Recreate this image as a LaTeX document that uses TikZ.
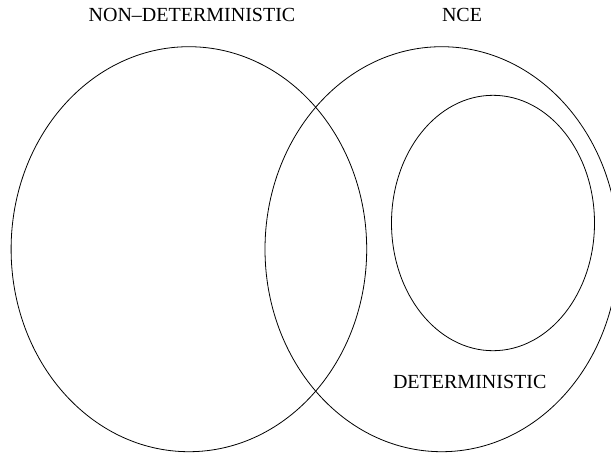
\documentclass[tikz,border=0pt]{standalone}
\usepackage{fontspec}
\setmainfont{Liberation Serif}
\begin{document}
\begin{tikzpicture}[x=1pt,y=-1pt,
  setline/.style={draw=black,line width=0.8pt},
  setlabel/.style={anchor=base,inner sep=0pt,font=\fontsize{20}{24}\selectfont}]
\useasboundingbox (0,0) rectangle (611,456);
\begin{scope}
\clip (0,0) rectangle (611,456);
\draw[setline] (188.9,249.2) ellipse [x radius=177.8, y radius=202.5];
\draw[setline] (441.7,249.2) ellipse [x radius=176.7, y radius=202.5];
\draw[setline] (493,223) ellipse [x radius=101.5, y radius=127.7];
\end{scope}
\node[setlabel] (nondet) at (192,21.7) {NON--DETERMINISTIC};
\node[setlabel] (nce) at (462,21.7) {NCE};
\node[setlabel] (det) at (469.7,388.3) {DETERMINISTIC};
\end{tikzpicture}
\end{document}
